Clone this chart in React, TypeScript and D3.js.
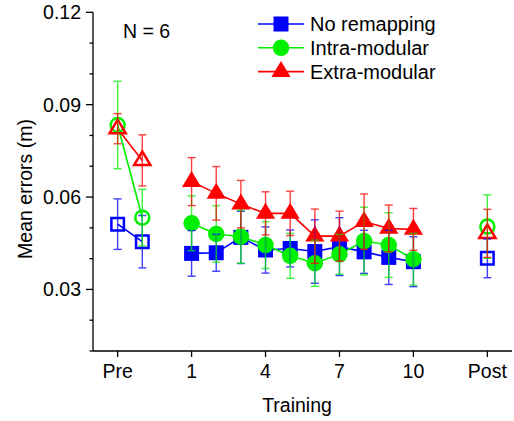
import React, { useEffect, useRef } from "react";
import * as d3 from "d3";

// x positions: Pre = -2 / -1, training sessions 1..10, Post = 13
const tickPos = [-2, 1, 4, 7, 10, 13];
const tickLabels = ["Pre", "1", "4", "7", "10", "Post"];
const prePos = [-2, -1];
const trainPos = [1, 2, 3, 4, 5, 6, 7, 8, 9, 10];
const postPos = [13];

const seriesNames = ["No remapping", "Intra-modular", "Extra-modular"];
const seriesColors = ["#0000ff", "#00f000", "#ff0000"];
const seriesShapes = ["square", "circle", "triangle"];

// No remapping
const noRemapPre = [0.0512, 0.0455];
const noRemapPreErr = [0.0082, 0.0085];
const noRemapTrain = [0.0417, 0.0419, 0.0469, 0.0428, 0.0433, 0.0423, 0.0439, 0.0422, 0.0404, 0.039];
const noRemapTrainErr = [0.0074, 0.006, 0.0085, 0.0075, 0.006, 0.0103, 0.0094, 0.007, 0.0088, 0.0081];
const noRemapPost = [0.0401];
const noRemapPostErr = [0.0063];

// Intra-modular
const intraPre = [0.0834, 0.0533];
const intraPreErr = [0.0142, 0.0092];
const intraTrain = [0.0515, 0.048, 0.0471, 0.0444, 0.0409, 0.0385, 0.0414, 0.0457, 0.0444, 0.0398];
const intraTrainErr = [0.0089, 0.0092, 0.0086, 0.0076, 0.0073, 0.0075, 0.0065, 0.011, 0.0105, 0.0084];
const intraPost = [0.0504];
const intraPostErr = [0.0103];

// Extra-modular
const extraPre = [0.0822, 0.0719];
const extraPreErr = [0.0049, 0.0083];
const extraTrain = [0.065, 0.0612, 0.0577, 0.0547, 0.0547, 0.0473, 0.0473, 0.052, 0.0498, 0.0495];
const extraTrainErr = [0.0078, 0.0087, 0.0077, 0.007, 0.0072, 0.0088, 0.0081, 0.009, 0.0076, 0.0068];
const extraPost = [0.0482];
const extraPostErr = [0.0078];

const yMajor = [0.03, 0.06, 0.09, 0.12];
const yMinor = [0.01, 0.02, 0.04, 0.05, 0.07, 0.08, 0.1, 0.11];

const FONT = "'Liberation Sans', Arial, sans-serif";

const markerPath = (shape, size) => {
  if (shape === "square") {
    const h = size / 2;
    return `M${-h},${-h}H${h}V${h}H${-h}Z`;
  }
  if (shape === "circle") {
    const r = size / 2;
    return `M${r},0A${r},${r} 0 1,1 ${-r},0A${r},${r} 0 1,1 ${r},0Z`;
  }
  const w = size * 1.2;
  const h = size;
  return `M0,${(-h * 2) / 3}L${w / 2},${h / 3}L${-w / 2},${h / 3}Z`;
};

const App = () => {
  const ref = useRef(null);

  useEffect(() => {
    const svg = d3.select(ref.current);
    svg.selectAll("*").remove();

    const x = d3.scaleLinear().domain([-3, 14]).range([93, 512]);
    const y = d3.scaleLinear().domain([0.01, 0.12]).range([351, 12.3]);

    const series = [
      { pre: noRemapPre, preErr: noRemapPreErr, train: noRemapTrain, trainErr: noRemapTrainErr, post: noRemapPost, postErr: noRemapPostErr },
      { pre: intraPre, preErr: intraPreErr, train: intraTrain, trainErr: intraTrainErr, post: intraPost, postErr: intraPostErr },
      { pre: extraPre, preErr: extraPreErr, train: extraTrain, trainErr: extraTrainErr, post: extraPost, postErr: extraPostErr },
    ];

    // axes
    const ax = svg.append("g").attr("stroke", "#000").attr("stroke-width", 1.3);
    ax.append("line").attr("x1", 93).attr("x2", 93).attr("y1", y(0.01)).attr("y2", y(0.12));
    ax.append("line").attr("x1", 93).attr("x2", 512).attr("y1", 351).attr("y2", 351);
    ax.selectAll(".ymaj").data(yMajor).enter().append("line")
      .attr("x1", 86).attr("x2", 93).attr("y1", (d) => y(d)).attr("y2", (d) => y(d));
    ax.selectAll(".ymin").data(yMinor).enter().append("line")
      .attr("x1", 89.5).attr("x2", 93).attr("y1", (d) => y(d)).attr("y2", (d) => y(d));
    ax.selectAll(".xmaj").data(tickPos).enter().append("line")
      .attr("x1", (d) => x(d)).attr("x2", (d) => x(d)).attr("y1", 351).attr("y2", 357);

    const txt = svg.append("g").attr("font-family", FONT).attr("font-size", 19.5).attr("fill", "#000");
    txt.selectAll(".yl").data(yMajor).enter().append("text")
      .attr("x", 81).attr("y", (d) => y(d)).attr("dy", "0.36em").attr("text-anchor", "end")
      .text((d) => d3.format(".2f")(d));
    txt.selectAll(".xl").data(tickPos).enter().append("text")
      .attr("x", (d) => x(d)).attr("y", 378).attr("text-anchor", "middle")
      .text((d, i) => tickLabels[i]);
    txt.append("text").attr("x", 297).attr("y", 412).attr("text-anchor", "middle").text("Training");
    txt.append("text").attr("transform", "translate(32,189) rotate(-90)").attr("text-anchor", "middle")
      .text("Mean errors (m)");
    txt.append("text").attr("x", 123).attr("y", 38).text("N = 6");

    const line = d3.line().x((d) => x(d[0])).y((d) => y(d[1]));
    const sizes = [15, 16.5, 16];

    // lines
    series.forEach((s, i) => {
      [d3.zip(prePos, s.pre), d3.zip(trainPos, s.train)].forEach((pts) => {
        svg.append("path").attr("d", line(pts)).attr("fill", "none")
          .attr("stroke", seriesColors[i]).attr("stroke-width", 1.6);
      });
    });

    // markers
    series.forEach((s, i) => {
      const open = d3.zip(prePos.concat(postPos), s.pre.concat(s.post));
      const filled = d3.zip(trainPos, s.train);
      svg.selectAll(null).data(filled).enter().append("path")
        .attr("transform", (d) => `translate(${x(d[0])},${y(d[1])})`)
        .attr("d", markerPath(seriesShapes[i], sizes[i]))
        .attr("fill", seriesColors[i]);
      svg.selectAll(null).data(open).enter().append("path")
        .attr("transform", (d) => `translate(${x(d[0])},${y(d[1])})`)
        .attr("d", markerPath(seriesShapes[i], sizes[i] - 2.5))
        .attr("fill", "none").attr("stroke", seriesColors[i]).attr("stroke-width", 2.5);
    });

    // error bars
    series.forEach((s, i) => {
      const pts = d3.zip(
        prePos.concat(trainPos, postPos),
        s.pre.concat(s.train, s.post),
        s.preErr.concat(s.trainErr, s.postErr)
      );
      const g = svg.append("g").attr("stroke", seriesColors[i]).attr("stroke-width", 1.4).attr("opacity", 0.75);
      pts.forEach(([px, v, e]) => {
        const cx = x(px);
        g.append("line").attr("x1", cx).attr("x2", cx).attr("y1", y(v - e)).attr("y2", y(v + e));
        g.append("line").attr("x1", cx - 4).attr("x2", cx + 4).attr("y1", y(v + e)).attr("y2", y(v + e));
        g.append("line").attr("x1", cx - 4).attr("x2", cx + 4).attr("y1", y(v - e)).attr("y2", y(v - e));
      });
    });

    // legend
    const leg = svg.append("g");
    seriesNames.forEach((name, i) => {
      const cy = 24 + i * 23.8;
      leg.append("line").attr("x1", 258).attr("x2", 304).attr("y1", cy).attr("y2", cy)
        .attr("stroke", seriesColors[i]).attr("stroke-width", 1.6);
      leg.append("path").attr("transform", `translate(281,${cy})`)
        .attr("d", markerPath(seriesShapes[i], sizes[i])).attr("fill", seriesColors[i]);
      leg.append("text").attr("x", 310).attr("y", cy + 7).attr("font-family", FONT)
        .attr("font-size", 20).text(name);
    });
  }, []);

  return (
    <div style={{ position: "absolute", left: 0, top: 0 }}>
      <svg ref={ref} width={514} height={421} style={{ display: "block", background: "#fff" }} />
    </div>
  );
};

export default App;
